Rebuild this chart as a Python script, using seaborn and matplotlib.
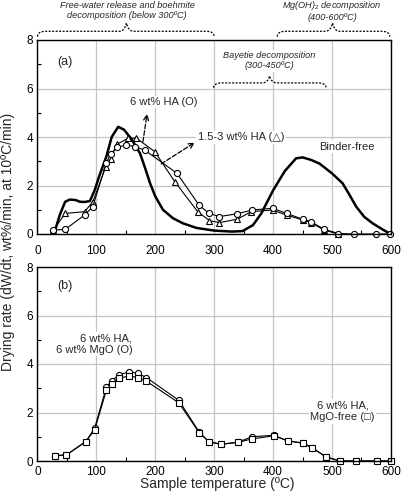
import numpy as np
import pandas as pd
import matplotlib
matplotlib.use("Agg")
import matplotlib.pyplot as plt
import seaborn as sns
from matplotlib.path import Path
from matplotlib.patches import PathPatch
from matplotlib.ticker import MultipleLocator

# panel (a): binder-free (thick line), 6 wt% HA (circles), 1.5-3 wt% HA (triangles)
bf_x = [30, 38, 47, 55, 65, 72, 80, 89, 97, 105, 117, 126, 137, 147, 160, 174, 183, 191, 200, 213,
        230, 247, 270, 300, 330, 348, 366, 380, 400, 420, 439, 450, 465, 479, 500, 518, 530, 541,
        555, 569, 585, 597]
bf_y = [0.16, 0.8, 1.33, 1.42, 1.4, 1.33, 1.32, 1.36, 1.8, 2.4, 3.2, 4.0, 4.42, 4.3, 3.9, 3.33, 2.7,
        2.1, 1.55, 1.0, 0.65, 0.44, 0.25, 0.14, 0.1, 0.12, 0.37, 0.85, 1.8, 2.6, 3.12, 3.16, 3.05,
        2.9, 2.5, 2.09, 1.6, 1.13, 0.7, 0.44, 0.2, 0.03]

ha6_x = [27, 47, 80, 94, 117, 124, 135, 151, 166, 182, 237, 274, 291, 309, 338, 365, 399, 423,
         450, 464, 487, 511, 538, 574, 598]
ha6_y = [0.16, 0.19, 0.78, 1.13, 2.94, 3.3, 3.57, 3.67, 3.6, 3.46, 2.5, 1.2, 0.85, 0.72, 0.83,
         0.99, 1.06, 0.85, 0.61, 0.51, 0.19, 0.02, 0.0, 0.0, 0.0]

ha3_x = [27, 47, 80, 94, 116, 124, 135, 154, 168, 199, 233, 272, 292, 309, 339, 363, 399, 423,
         450, 464, 487, 511]
ha3_y = [0.16, 0.85, 0.92, 1.33, 2.78, 3.1, 3.7, 3.95, 3.95, 3.4, 2.16, 0.92, 0.55, 0.47, 0.61,
         0.92, 0.99, 0.78, 0.58, 0.47, 0.16, 0.0]

# panel (b): 6 wt% HA with 6 wt% MgO (circles) and MgO-free (squares)
b_x = [30, 49, 82, 97, 117, 126, 138, 156, 170, 185, 240, 275, 291, 311, 340, 364, 401, 425, 450,
       466, 489, 513, 541, 576, 600]
mgo_y = [0.22, 0.25, 0.8, 1.35, 3.05, 3.3, 3.55, 3.68, 3.62, 3.44, 2.5, 1.18, 0.8, 0.69, 0.77,
         1.0, 1.06, 0.83, 0.74, 0.55, 0.18, 0.0, 0.0, 0.0, 0.0]
free_y = [0.22, 0.25, 0.8, 1.28, 2.92, 3.17, 3.41, 3.51, 3.44, 3.29, 2.4, 1.15, 0.8, 0.69, 0.77,
          0.91, 1.04, 0.83, 0.74, 0.55, 0.18, 0.0, 0.0, 0.0, 0.0]

x_ticks = [0, 100, 200, 300, 400, 500, 600]
y_ticks = [0, 2, 4, 6, 8]

sns.set_style("whitegrid")
plt.rcParams['font.family'] = ['Liberation Sans', 'DejaVu Sans']
plt.rcParams['mathtext.fontset'] = 'custom'
plt.rcParams['mathtext.it'] = 'Liberation Sans:italic'
plt.rcParams['mathtext.rm'] = 'Liberation Sans'

fig = plt.figure(figsize=(4.03, 5.0), dpi=100)
ax1 = fig.add_axes([0.093, 0.532, 0.877, 0.388])
ax2 = fig.add_axes([0.093, 0.078, 0.877, 0.388])

mk = dict(markerfacecolor='white', markeredgecolor='black', markeredgewidth=0.8,
          markersize=4.4, color='black', linewidth=0.8, sort=False, clip_on=False)

sns.lineplot(x=bf_x, y=bf_y, ax=ax1, color='black', linewidth=1.8, sort=False)
sns.lineplot(x=ha3_x, y=ha3_y, ax=ax1, marker='^', **mk)
sns.lineplot(x=ha6_x, y=ha6_y, ax=ax1, marker='o', **mk)

sns.lineplot(x=b_x, y=mgo_y, ax=ax2, marker='o', **mk)
sns.lineplot(x=b_x, y=free_y, ax=ax2, marker='s', **mk)

for ax, pad in ((ax1, 8), (ax2, 3.5)):
    ax.set_xlim(0, 600)
    ax.set_ylim(0, 8)
    ax.set_xticks(x_ticks)
    ax.set_yticks(y_ticks)
    ax.xaxis.set_minor_locator(MultipleLocator(50))
    ax.yaxis.set_minor_locator(MultipleLocator(1))
    ax.grid(True, which='major', color='#c4c4c4', linewidth=0.9)
    ax.grid(False, which='minor')
    ax.tick_params(which='major', length=0, labelsize=8.5, colors='black')
    ax.tick_params(axis='x', which='major', pad=pad)
    ax.tick_params(axis='y', which='major', pad=3)
    ax.tick_params(which='minor', direction='in', length=3, width=0.8, color='black',
                   bottom=True, left=True)
    for s in ax.spines.values():
        s.set_color('black')
        s.set_linewidth(1.0)
    ax.set_xlabel('')
    ax.set_ylabel('')


def brace(ax, x0, x1, xm, y0, y1, y2, w=14):
    # dashed curly brace: curled ends, flat runs, pointed peak in the middle
    verts = [(x0, y0), (x0, y1), (x0 + w, y1),
             (xm - 12, y1),
             (xm - 3, y1), (xm, y2),
             (xm + 3, y1), (xm + 12, y1),
             (x1 - w, y1),
             (x1, y1), (x1, y0)]
    codes = [Path.MOVETO, Path.CURVE3, Path.CURVE3,
             Path.LINETO,
             Path.CURVE3, Path.CURVE3,
             Path.CURVE3, Path.CURVE3,
             Path.LINETO,
             Path.CURVE3, Path.CURVE3]
    p = PathPatch(Path(verts, codes), fill=False, edgecolor='black', linewidth=0.9,
                  linestyle=(0, (1.6, 1.2)), clip_on=False, zorder=5)
    ax.add_patch(p)


brace(ax1, 0, 300, 151, 8.14, 8.36, 8.7)
brace(ax1, 407, 598, 501, 8.14, 8.36, 8.7)
brace(ax1, 299, 490, 394, 6.03, 6.23, 6.52)

it = dict(fontsize=6.6, style='italic', ha='center', va='center', linespacing=1.15)
ax1.text(152, 9.22, 'Free-water release and boehmite\ndecomposition (below 300ºC)', **it)
ax1.text(500, 9.22, 'Mg(OH)$_2$ decomposition\n(400-600ºC)', **it)
ax1.text(394, 7.15, 'Bayetie decomposition\n(300-450ºC)',
         bbox=dict(facecolor='white', edgecolor='none', pad=1), **it)

box = dict(facecolor='white', edgecolor='none', pad=1)
ax1.text(46, 7.1, '(a)', fontsize=9, ha='center', va='center', bbox=box)
ax2.text(46, 7.2, '(b)', fontsize=9, ha='center', va='center', bbox=box)

ax1.text(214, 5.45, '6 wt% HA (O)', fontsize=8, ha='center', va='center', bbox=box)
ax1.text(272, 3.99, '1.5-3 wt% HA (\u25b3)', fontsize=8, ha='left', va='center', bbox=box)
ax1.text(525, 3.6, 'Binder-free', fontsize=8, ha='center', va='center', bbox=box)

arr = dict(arrowstyle='->', linestyle='--', linewidth=0.9, color='black',
           shrinkA=0, shrinkB=0, mutation_scale=9)
ax1.annotate('', xy=(186, 4.95), xytext=(179, 3.8), arrowprops=arr)
ax1.annotate('', xy=(267, 3.77), xytext=(210, 2.89), arrowprops=arr)

ax2.text(161, 4.82, '6 wt% HA,\n6 wt% MgO (O)', fontsize=8, ha='right', va='center',
         multialignment='right', linespacing=1.2, bbox=box)
ax2.text(518, 2.04, '6 wt% HA,\nMgO-free (\u25a1)', fontsize=8, ha='center', va='center',
         multialignment='center', linespacing=1.2, bbox=box)

fig.text(0.02, 0.516, 'Drying rate (dW/dt, wt%/min, at 10ºC/min)', rotation=90,
         fontsize=10, ha='center', va='center')
fig.text(0.538, 0.032, 'Sample temperature (ºC)', fontsize=10, ha='center', va='center')

fig.savefig('out.png', dpi=100)
